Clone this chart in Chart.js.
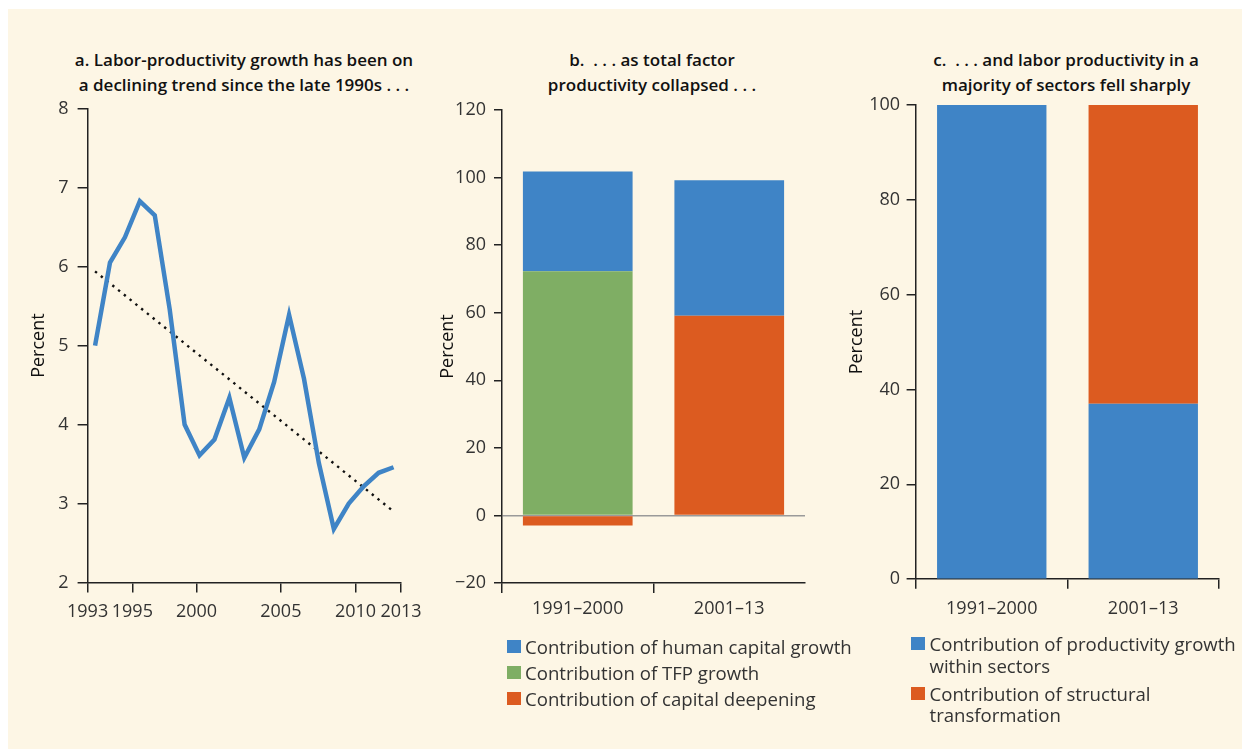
<!DOCTYPE html>
<html>
<head>
<meta charset="utf-8">
<script src="https://cdn.jsdelivr.net/npm/chart.js@4.4.1/dist/chart.umd.min.js"></script>
<style>
  html, body { margin: 0; padding: 0; background: #fff; }
  body { width: 1242px; height: 750px; position: relative; overflow: hidden; font-family: 'Open Sans', sans-serif; }
  #bg { position: absolute; left: 8px; top: 9px; width: 1234px; height: 740px; background: #fdf6e5; }
  .panel { position: absolute; }
  .title { position: absolute; font-weight: 600; font-size: 17px; line-height: 25px; color: #111; text-align: center; white-space: nowrap; transform: translateX(-50%); }
  .legend { position: absolute; font-size: 18.6px; color: #333; white-space: nowrap; }
  .legend .item { position: relative; padding-left: 18.5px; }
  .legend .sw { position: absolute; left: 0; width: 14px; height: 13px; }
</style>
</head>
<body>
<div id="bg"></div>

<div class="title" style="left:244px; top:47px;">a. Labor-productivity growth has been on<br>a declining trend since the late 1990s . . .</div>
<div class="title" style="left:652px; top:47px;">b.&nbsp; . . . as total factor<br>productivity collapsed . . .</div>
<div class="title" style="left:1066px; top:47px;">c.&nbsp; . . . and labor productivity in a<br>majority of sectors fell sharply</div>

<div class="panel" style="left:0px; top:88px; width:430px; height:562px;"><canvas id="chartA"></canvas></div>
<div class="panel" style="left:420px; top:88px; width:410px; height:562px;"><canvas id="chartB"></canvas></div>
<div class="panel" style="left:835px; top:85px; width:405px; height:565px;"><canvas id="chartC"></canvas></div>

<div class="legend" id="legendB" style="left:506.5px; top:633.7px; line-height:26px;"></div>
<div class="legend" id="legendC" style="left:911px; top:633.3px; line-height:21.5px;"></div>

<script>
  // panel a: labor productivity growth, percent
  const years = [1993, 1994, 1995, 1996, 1997, 1998, 1999, 2000, 2001, 2002, 2003,
                 2004, 2005, 2006, 2007, 2008, 2009, 2010, 2011, 2012, 2013];
  const laborGrowth = [5.0, 6.05, 6.37, 6.83, 6.65, 5.46, 4.0, 3.61, 3.81, 4.34, 3.58,
                       3.94, 4.54, 5.39, 4.58, 3.51, 2.68, 3.0, 3.22, 3.39, 3.46];
  const trendYears = [1993, 2013];
  const trendValues = [5.94, 2.9];
  // year labels and where the original puts them on the year scale
  const yearTicks = ['1993', '1995', '2000', '2005', '2010', '2013'];
  const yearTickAt = [1992.5, 1995.5, 1999.8, 2005.45, 2010.45, 2013.5];

  // panel b: contributions to labor productivity growth, percent
  const periods = ['1991–2000', '2001–13'];
  const humanCapital = [29.5, 40.1];
  const tfpGrowth = [72.3, 0];
  const capitalDeepening = [-3.0, 59.1];

  // panel c: within-sector vs structural transformation, percent
  const withinSectors = [100, 37];
  const structuralChange = [0, 63];

  const BLUE = '#3f84c6', GREEN = '#7fae64', ORANGE = '#dc5b20';
  const INK = '#222', TICK_TXT = '#333';

  const tickFont = { family: "'Open Sans', sans-serif", size: 18 };
  const titleFont = { family: "'Open Sans', sans-serif", size: 18 };
  const minus = (v) => v < 0 ? '\u2212' + Math.abs(v) : String(v);

  // fixed axis sizes so every plot area lands where the original has it
  const fixWidth = (w) => (scale) => { scale.width = w; };
  const fixHeight = (h) => (scale) => { scale.height = h; };

  const baseOpts = (pad) => ({
    responsive: true,
    maintainAspectRatio: false,
    animation: false,
    layout: { padding: pad },
    plugins: { legend: { display: false }, tooltip: { enabled: false } }
  });

  const yAxis = (o) => ({
    min: o.min, max: o.max,
    afterFit: fixWidth(o.width),
    border: { color: INK, width: 1.5 },
    grid: o.grid || { drawOnChartArea: false, tickLength: o.tickLength, tickColor: INK, lineWidth: 1.5 },
    ticks: { stepSize: o.step, color: TICK_TXT, font: tickFont, padding: o.pad, callback: minus },
    title: { display: true, text: 'Percent', color: '#111', font: titleFont, padding: { top: o.titlePad, bottom: 0 } }
  });

  // ---- a. line with dotted trend ----
  new Chart(document.getElementById('chartA'), {
    type: 'line',
    data: {
      datasets: [
        { data: years.map((y, i) => ({ x: y, y: laborGrowth[i] })), borderColor: BLUE, borderWidth: 4.5, pointRadius: 0, tension: 0 },
        { data: trendYears.map((y, i) => ({ x: y, y: trendValues[i] })), borderColor: '#111', borderWidth: 2.4, borderDash: [2.4, 5], pointRadius: 0 }
      ]
    },
    options: Object.assign(baseOpts({ left: 0, top: 20.6, right: 29, bottom: 0 }), {
      scales: {
        x: {
          type: 'linear', min: 1992.5, max: 2013.5,
          afterFit: fixHeight(67.4),
          afterBuildTicks: (s) => { s.ticks = yearTickAt.map(v => ({ value: v })); },
          border: { color: INK, width: 1.5 },
          grid: { drawOnChartArea: false, tickLength: 10, tickColor: INK, lineWidth: 1.5 },
          ticks: { color: TICK_TXT, font: tickFont, padding: 8, maxRotation: 0, autoSkip: false,
                   callback: (v, i) => yearTicks[i] }
        },
        y: yAxis({ min: 2, max: 8, step: 1, width: 87.6, tickLength: 10, pad: 9, titlePad: 28 })
      }
    })
  });

  // ---- b. stacked contributions ----
  new Chart(document.getElementById('chartB'), {
    type: 'bar',
    data: {
      labels: periods,
      datasets: [
        { label: 'Contribution of TFP growth', data: tfpGrowth, backgroundColor: GREEN },
        { label: 'Contribution of capital deepening', data: capitalDeepening, backgroundColor: ORANGE },
        { label: 'Contribution of human capital growth', data: humanCapital, backgroundColor: BLUE }
      ]
    },
    options: Object.assign(baseOpts({ left: 0, top: 22, right: 25, bottom: 0 }), {
      datasets: { bar: { barPercentage: 1, categoryPercentage: 0.724 } },
      scales: {
        x: {
          stacked: true,
          afterFit: fixHeight(67),
          border: { color: INK, width: 1.5 },
          grid: { drawOnChartArea: false, tickLength: 10, lineWidth: 1.5,
                  tickColor: (ctx) => ctx.type === 'tick' ? INK : 'rgba(0,0,0,0)' },
          ticks: { color: TICK_TXT, font: tickFont, padding: 5 }
        },
        y: Object.assign(yAxis({
          min: -20, max: 120, step: 20, width: 82, pad: 8, titlePad: 17,
          grid: { drawOnChartArea: true, tickLength: 8, tickColor: INK, lineWidth: 1.5,
                  color: (ctx) => ctx.tick && ctx.tick.value === 0 ? '#9a9a9a' : 'rgba(0,0,0,0)' }
        }), { stacked: true, z: 1 })
      }
    })
  });

  // ---- c. within-sector vs structural ----
  new Chart(document.getElementById('chartC'), {
    type: 'bar',
    data: {
      labels: periods,
      datasets: [
        { label: 'Contribution of productivity growth within sectors', data: withinSectors, backgroundColor: BLUE },
        { label: 'Contribution of structural transformation', data: structuralChange, backgroundColor: ORANGE }
      ]
    },
    options: Object.assign(baseOpts({ left: 0, top: 20, right: 21, bottom: 0 }), {
      datasets: { bar: { barPercentage: 1, categoryPercentage: 0.722 } },
      scales: {
        x: {
          stacked: true,
          afterFit: fixHeight(70.8),
          border: { color: INK, width: 1.5 },
          grid: { drawOnChartArea: false, tickLength: 9.5, tickColor: INK, lineWidth: 1.5 },
          ticks: { color: TICK_TXT, font: tickFont, padding: 9 }
        },
        y: Object.assign(yAxis({ min: 0, max: 100, step: 20, width: 81, tickLength: 9.4, pad: 6.5, titlePad: 11 }), { stacked: true })
      }
    })
  });

  // legends as plain text blocks under panels b and c
  const legendB = [
    { color: BLUE, lines: ['Contribution of human capital growth'] },
    { color: GREEN, lines: ['Contribution of TFP growth'] },
    { color: ORANGE, lines: ['Contribution of capital deepening'] }
  ];
  const legendC = [
    { color: BLUE, lines: ['Contribution of productivity growth', 'within sectors'] },
    { color: ORANGE, lines: ['Contribution of structural', 'transformation'] }
  ];
  function buildLegend(el, items, gap, swTop) {
    items.forEach((it, i) => {
      const d = document.createElement('div');
      d.className = 'item';
      if (i > 0) d.style.marginTop = gap + 'px';
      d.innerHTML = '<span class="sw" style="top:' + swTop + 'px; background:' + it.color + '"></span>' + it.lines.join('<br>');
      el.appendChild(d);
    });
  }
  buildLegend(document.getElementById('legendB'), legendB, 0, 6.5);
  buildLegend(document.getElementById('legendC'), legendC, 6.7, 4.2);
</script>
</body>
</html>
